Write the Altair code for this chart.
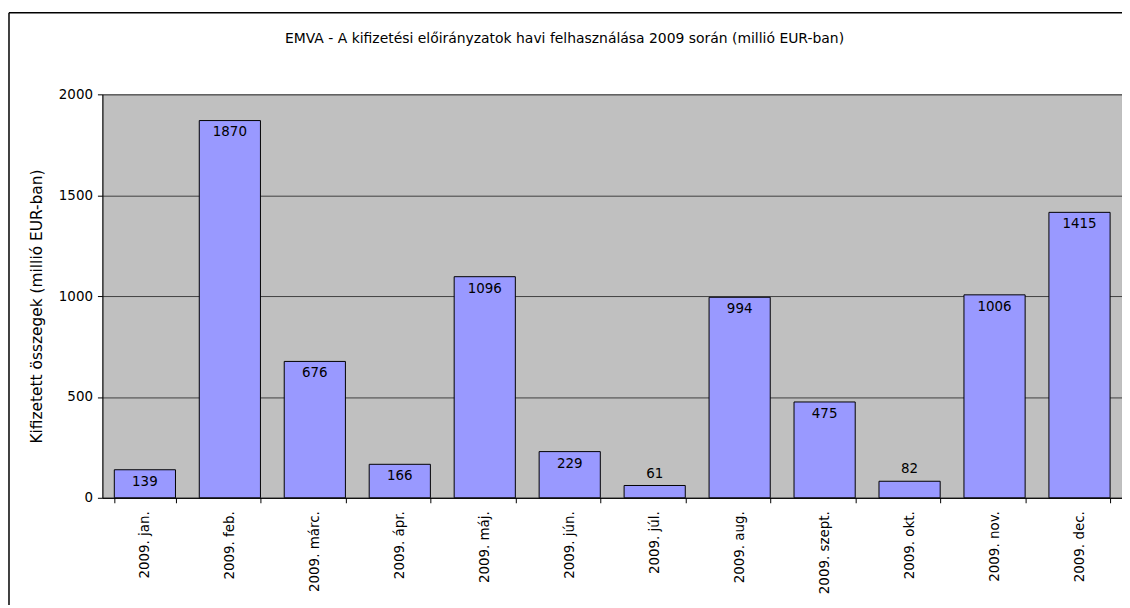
import altair as alt
import pandas as pd

months = ["2009. jan.", "2009. feb.", "2009. márc.", "2009. ápr.", "2009. máj.", "2009. jún.",
          "2009. júl.", "2009. aug.", "2009. szept.", "2009. okt.", "2009. nov.", "2009. dec."]
values = [139, 1870, 676, 166, 1096, 229, 61, 994, 475, 82, 1006, 1415]

title_text = "EMVA - A kifizetési előirányzatok havi felhasználása 2009 során (millió EUR-ban)"
y_title = "Kifizetett összegek (millió EUR-ban)"

df = pd.DataFrame({"month": months, "value": values})
FONT = "DejaVu Sans"
FS = 13.5

x = alt.X("month:N", sort=months, title=None,
          scale=alt.Scale(paddingInner=0.28, paddingOuter=0.14),
          axis=alt.Axis(labelAngle=-90, labelFontSize=FS, labelFont=FONT, labelColor="black",
                        labelPadding=8, tickBand="extent", tickColor="black", tickSize=5,
                        domainColor="black", labelBaseline="middle", labelAlign="right"))
y = alt.Y("value:Q", title=y_title,
          scale=alt.Scale(domain=[0, 2000], nice=False),
          axis=alt.Axis(values=[0, 500, 1000, 1500, 2000], format="d", labelFontSize=FS,
                        labelFont=FONT, labelColor="black", tickColor="black", tickSize=5,
                        domainColor="black", gridColor="#404040", gridOpacity=1,
                        titleFont=FONT, titleFontSize=15.5, titleFontWeight="normal",
                        titleColor="black", titleX=-66, titleY=213, titleBaseline="middle",
                        titleAlign="center", titleAngle=-90, labelPadding=5))

base = alt.Chart(df)

bars = base.mark_bar(color="#9999FF", stroke="black", strokeWidth=1).encode(x=x, y=y)

inside = base.transform_filter(alt.datum.value >= 100).mark_text(
    baseline="top", dy=5, fontSize=FS, font=FONT, color="black"
).encode(x=alt.X("month:N", sort=months), y="value:Q", text="value:Q")

above = base.transform_filter(alt.datum.value < 100).mark_text(
    baseline="alphabetic", dy=-8, fontSize=FS, font=FONT, color="black"
).encode(x=alt.X("month:N", sort=months), y="value:Q", text="value:Q")

one = pd.DataFrame({"label": [title_text]})
title = alt.Chart(one).mark_text(fontSize=14, font=FONT, color="black", baseline="middle",
                                 align="center").encode(
    x=alt.value(465), y=alt.value(-56), text="label:N")

border_left = alt.Chart(one).mark_rule(color="black", strokeWidth=1.5).encode(
    x=alt.value(-94), y=alt.value(-82), y2=alt.value(700))
border_top = alt.Chart(one).mark_rule(color="black", strokeWidth=1.5).encode(
    x=alt.value(-94), x2=alt.value(1200), y=alt.value(-82))

chart = alt.layer(bars, inside, above, title, border_left, border_top).properties(
    width=1026, height=406,
    autosize=alt.AutoSizeParams(type="none"),
    padding={"left": 95, "top": 85, "right": 0, "bottom": 106},
    background="white",
).configure_view(fill="#C0C0C0", stroke="#808080", strokeWidth=1)

chart.save("out.html", embed_options={"renderer": "svg", "actions": False})
